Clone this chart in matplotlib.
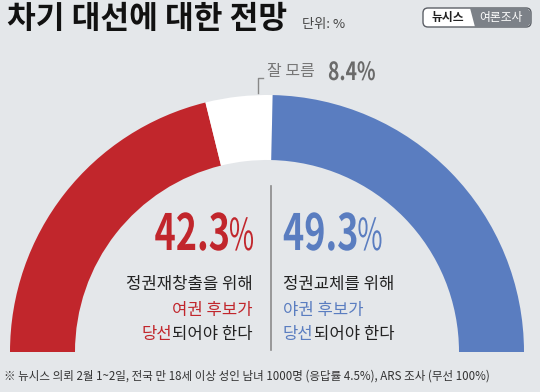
import numpy as np
import matplotlib
matplotlib.use("Agg")
import matplotlib.pyplot as plt
from matplotlib.patches import Wedge, FancyBboxPatch, Polygon, PathPatch
from matplotlib.textpath import TextPath
from matplotlib.font_manager import FontProperties
from matplotlib.transforms import Affine2D

plt.rcParams['font.family'] = ['Noto Sans CJK KR', 'DejaVu Sans']

# data
labels = ['여권 후보 당선', '잘 모름', '야권 후보 당선']
values = [42.3, 8.4, 49.3]
title = '차기 대선에 대한 전망'
unit = '단위: %'
left_lines = ['정권재창출을 위해', '여권 후보가', '당선', '되어야 한다']
right_lines = ['정권교체를 위해', '야권 후보가', '당선', '되어야 한다']
note = '※ 뉴시스 의뢰 2월 1~2일, 전국 만 18세 이상 성인 남녀 1000명 (응답률 4.5%), ARS 조사 (무선 100%)'

RED = '#c1262c'
BLUE = '#5a7dc0'
BG = '#e4e7ea'
DARK = '#222222'
GRAY = '#777777'

W, H = 540, 392
fig = plt.figure(figsize=(W / 100, H / 100), dpi=100, facecolor=BG)
ax = fig.add_axes([0, 0, 1, 1])
ax.set_xlim(0, W)
ax.set_ylim(0, H)
ax.axis('off')


def Y(y):
    return H - y


def narrow(x, base, s, size, sx, color, bold=True, ha='left'):
    # condensed text drawn as a path, returns left/right edge x
    fp = FontProperties(family='Noto Sans CJK KR', weight='bold' if bold else 'normal')
    tp = TextPath((0, 0), s, size=size, prop=fp)
    ext = tp.get_extents()
    w = ext.x1 * sx
    x0 = x - w if ha == 'right' else x
    path = Affine2D().scale(sx, 1).translate(x0, Y(base)).transform_path(tp)
    ax.add_patch(PathPatch(path, facecolor=color, edgecolor='none'))
    return x0, x0 + w


# half donut
cx, cy, r, width = 267, Y(352), 257, 65
seg_colors = [RED, 'white', BLUE]
start = 180.0
for v, c in zip(values, seg_colors):
    end = start - v / 100 * 180
    ax.add_patch(Wedge((cx, cy), r, end, start, width=width, facecolor=c, edgecolor='none'))
    start = end

# title
ax.text(7, Y(19), title, fontsize=22.5, fontweight='bold', color='#111111', va='center', ha='left')
ax.text(302, Y(24), unit, fontsize=9.5, color='#444444', va='center', ha='left')

# logo
ax.add_patch(FancyBboxPatch((423, Y(27)), 108, 19, boxstyle='round,pad=0,rounding_size=5',
                            facecolor='white', edgecolor='#5c6067', lw=1.0))
ax.add_patch(Polygon([(475, Y(27)), (470, Y(8)), (527, Y(8)), (531, Y(12)), (531, Y(23)), (527, Y(27))],
                     closed=True, facecolor='#7c8188', edgecolor='none'))
ax.text(448, Y(17.5), '뉴시스', fontsize=8.5, fontweight='bold', color='#222222', ha='center', va='center')
ax.text(501, Y(17.5), '여론조사', fontsize=8.5, color='white', ha='center', va='center')

# "don't know" annotation
ax.plot([258, 258, 263], [Y(93), Y(78), Y(78)], color='#888888', lw=1)
ax.text(267, Y(71), labels[1], fontsize=11.5, color=GRAY, ha='left', va='center')
narrow(328, 80, f'{values[1]}%', 25, 0.77, '#6a6a6a')

# divider
ax.plot([271, 271], [Y(186), Y(350)], color='#8a8a8a', lw=1.2)

# left block
x0, _ = narrow(253, 250, '%', 44, 0.62, RED, bold=False, ha='right')
narrow(x0 - 1, 250, f'{values[0]}', 50, 0.72, RED, ha='right')
ax.text(253, Y(285), left_lines[0], fontsize=12, color=DARK, ha='right', va='center')
ax.text(253, Y(310), left_lines[1], fontsize=12, color=RED, ha='right', va='center')
t = ax.text(253, Y(335), left_lines[3], fontsize=12, color=DARK, ha='right', va='center')
ax.annotate(left_lines[2], xy=(0, 0.5), xycoords=t, xytext=(0, 0), textcoords='offset points',
            fontsize=12, color=RED, ha='right', va='center')

# right block
_, x1 = narrow(283, 250, f'{values[2]}', 50, 0.72, BLUE)
narrow(x1 + 1, 250, '%', 44, 0.62, BLUE, bold=False)
ax.text(283, Y(285), right_lines[0], fontsize=12, color=DARK, ha='left', va='center')
ax.text(283, Y(310), right_lines[1], fontsize=12, color=BLUE, ha='left', va='center')
t = ax.text(283, Y(335), right_lines[2], fontsize=12, color=BLUE, ha='left', va='center')
ax.annotate(right_lines[3], xy=(1, 0.5), xycoords=t, xytext=(0, 0), textcoords='offset points',
            fontsize=12, color=DARK, ha='left', va='center')

# footnote
ax.text(4, Y(376), note, fontsize=8.3, color='#333333', ha='left', va='center')

fig.savefig('out.png', dpi=100, facecolor=BG)
